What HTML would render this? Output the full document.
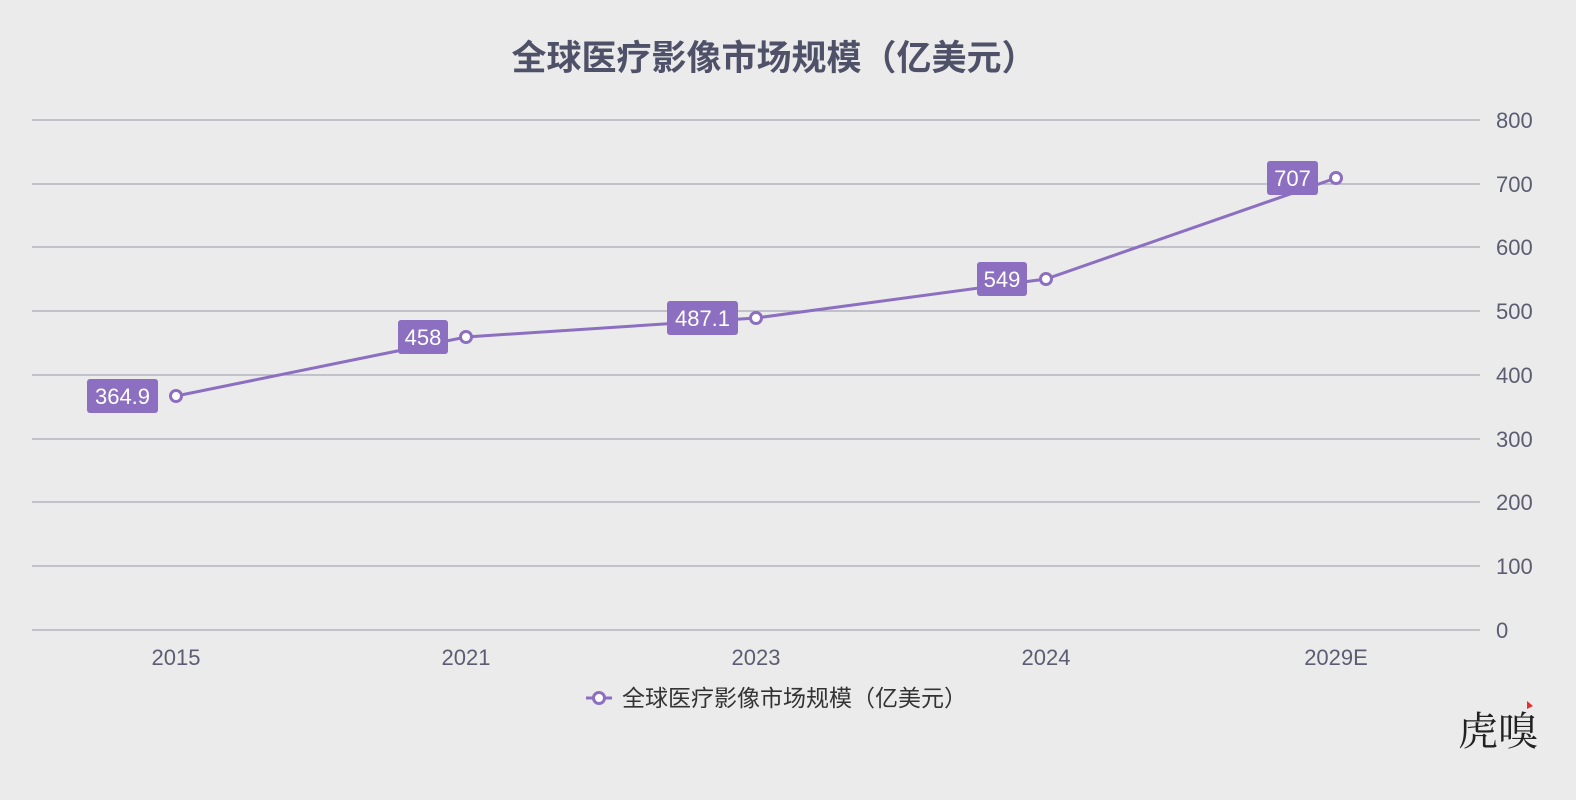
<!DOCTYPE html>
<html><head><meta charset="utf-8"><style>
body{margin:0;background:#ebebeb;}
svg{display:block;font-family:"Liberation Sans","Noto Sans CJK SC",sans-serif;}
</style></head><body>
<svg width="1576" height="800" viewBox="0 0 1576 800">
<rect width="1576" height="800" fill="#ebebeb"/>
<text x="774" y="70" text-anchor="middle" font-size="35" font-weight="bold" fill="#4f5168">全球医疗影像市场规模（亿美元）</text>
<g stroke="#a8a8ba" stroke-width="1.3">
<line x1="32" x2="1480" y1="120" y2="120"/><line x1="32" x2="1480" y1="184" y2="184"/>
<line x1="32" x2="1480" y1="247" y2="247"/><line x1="32" x2="1480" y1="311" y2="311"/>
<line x1="32" x2="1480" y1="375" y2="375"/><line x1="32" x2="1480" y1="439" y2="439"/>
<line x1="32" x2="1480" y1="502" y2="502"/><line x1="32" x2="1480" y1="566" y2="566"/>
<line x1="32" x2="1480" y1="630" y2="630"/>
</g>
<g font-size="22" fill="#5c5d72">
<text x="1496" y="128">800</text><text x="1496" y="192">700</text><text x="1496" y="255">600</text>
<text x="1496" y="319">500</text><text x="1496" y="383">400</text><text x="1496" y="447">300</text>
<text x="1496" y="510">200</text><text x="1496" y="574">100</text><text x="1496" y="638">0</text>
</g>
<g font-size="22" fill="#5c5d72" text-anchor="middle">
<text x="176" y="665">2015</text><text x="466" y="665">2021</text><text x="756" y="665">2023</text>
<text x="1046" y="665">2024</text><text x="1336" y="665">2029E</text>
</g>
<polyline points="176,396 466,337 756,318 1046,279 1336,178" fill="none" stroke="#8c6fc0" stroke-width="3"/>
<g fill="#8c6fc0">
<rect x="87" y="379" width="71" height="34" rx="3"/>
<rect x="398" y="320" width="50" height="34" rx="3"/>
<rect x="667" y="301" width="71" height="34" rx="3"/>
<rect x="977" y="262" width="50" height="34" rx="3"/>
<rect x="1267" y="161" width="51" height="34" rx="3"/>
</g>
<g font-size="22" fill="#fff" text-anchor="middle">
<text x="122.5" y="404">364.9</text><text x="423" y="345">458</text><text x="702.5" y="326">487.1</text>
<text x="1002" y="287">549</text><text x="1292.5" y="186">707</text>
</g>
<g fill="#fff" stroke="#8c6fc0" stroke-width="3">
<circle cx="176" cy="396" r="5.5"/><circle cx="466" cy="337" r="5.5"/><circle cx="756" cy="318" r="5.5"/>
<circle cx="1046" cy="279" r="5.5"/><circle cx="1336" cy="178" r="5.5"/>
</g>
<line x1="586" x2="612" y1="698" y2="698" stroke="#8c6fc0" stroke-width="3"/>
<circle cx="599" cy="698" r="5.5" fill="#fff" stroke="#8c6fc0" stroke-width="3"/>
<text x="622" y="706" font-size="23" fill="#333">全球医疗影像市场规模（亿美元）</text>
<text x="1458" y="745" font-size="40" fill="#222" font-family="'Noto Serif CJK SC',serif">虎嗅</text>
<polygon points="1527,701 1533,706 1527,709" fill="#e63030"/>
</svg>
</body></html>
